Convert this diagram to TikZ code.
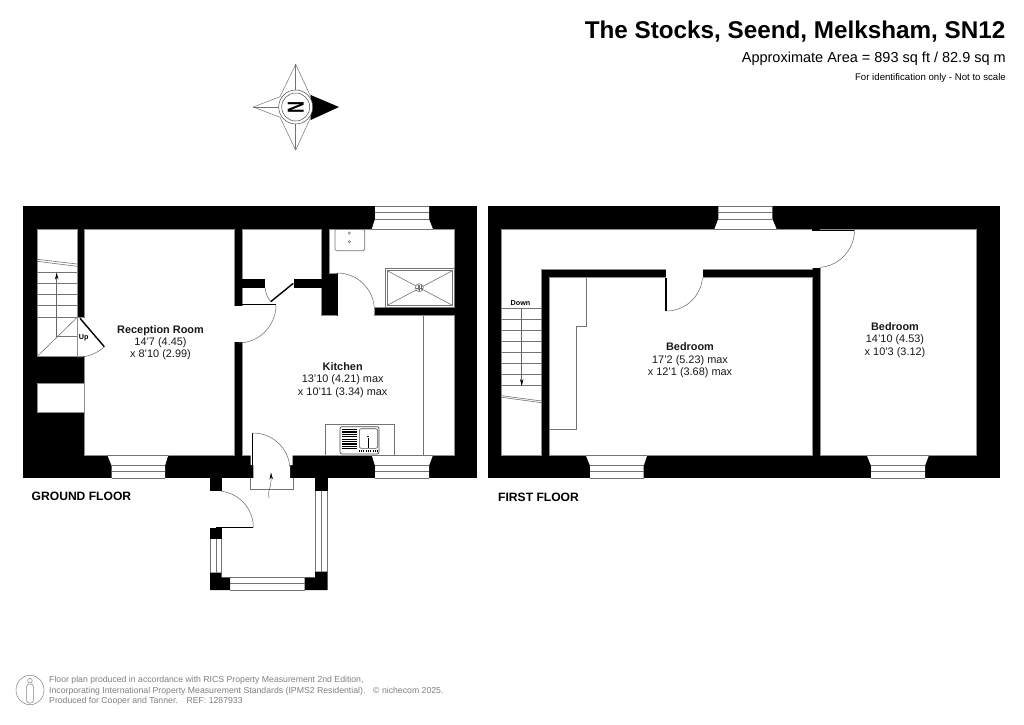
\documentclass[tikz,border=0pt]{standalone}
\usepackage{fontspec}
\setmainfont{Liberation Sans}
\usetikzlibrary{arrows.meta}
\tikzset{
        wall/.style={fill=black},
        room/.style={fill=white, draw=black!45, line width=0.6pt},
        gap/.style={fill=white},
        thinline/.style={draw=black!55, line width=0.6pt},
        swing/.style={draw=black!60, line width=0.5pt},
        leaf/.style={draw=black, line width=1.4pt},
        roomlabel/.style={align=center, inner sep=0pt, text=black!90, font=\fontsize{10.9}{12.3}\selectfont},
        floorlabel/.style={anchor=west, inner sep=0pt, font=\fontsize{12.1}{14}\selectfont\bfseries},
        footer/.style={anchor=base west, inner sep=0pt, text=black!50, font=\fontsize{8.7}{10}\selectfont},
        stairarrow/.style={draw=black!60, line width=0.5pt, -{Stealth[length=7pt,width=3.4pt,black]}}
}
\begin{document}
\begin{tikzpicture}[x=1pt, y=-1pt]
        \fill[white] (0,0) rectangle (1024,724);

        % outer walls
        \fill[wall] (23.3,206) rectangle (477,478);
        \fill[wall] (488.3,206) rectangle (1000,478);
        \fill[wall] (209.5,478) rectangle (221.7,491);
        \fill[wall] (315,478) rectangle (327.7,491);

        % ground floor rooms
        \path[room] (37,229.3) rectangle (77,356.7);
        \path[room] (37,383) rectangle (84.3,412);
        \path[room] (84.3,229.3) -- (234.3,229.3) -- (234.3,455) -- (84.3,455) -- (84.3,356.7)
                -- (77,356.7) -- (77,317.5) -- (84.3,317.5) -- cycle;
        \path[room] (242.3,229.3) -- (321.7,229.3) -- (321.7,315.7) -- (454,315.7) -- (454,455)
                -- (242.3,455) -- cycle;
        \path[room] (329.3,229.3) -- (454,229.3) -- (454,307.5) -- (374.3,307.5) -- (374.3,315.7)
                -- (337.3,315.7) -- (337.3,273) -- (329.3,273) -- cycle;
        \fill[wall] (242.3,279) rectangle (264.7,287.5);
        \fill[wall] (294,279) rectangle (321.7,287.5);
        \fill[gap] (233.5,305.5) rectangle (243,341.5);
        \fill[gap] (337.8,306) rectangle (373.8,317);
        \fill[gap] (250.7,454) -- (292.7,454) -- (292.7,465) -- (290,465) -- (290,478) -- (253.3,478)
                -- (253.3,465) -- (250.7,465) -- cycle;

        % first floor rooms
        \path[room] (501.7,229.3) -- (812.3,229.3) -- (812.3,269.3) -- (541.7,269.3) -- (541.7,455)
                -- (501.7,455) -- cycle;
        \path[room] (549,277.7) rectangle (812.3,455);
        \path[room] (820.7,229.3) rectangle (976.7,455);
        \fill[gap] (666,268.5) rectangle (702.7,278.5);
        \fill[gap] (811,230) rectangle (821.5,267.7);
        \fill[wall] (812,229) rectangle (820,231);

        % windows
        \foreach \xa/\xb/\xc/\xd/\ya/\yb/\yc/\yd in {
                107.3/111.7/165/168.3/455/465.7/471.7/478,
                371.7/375/429/433/455/465.7/471.7/478,
                585.7/590/643.7/647.3/455/465.7/471.7/478,
                866.7/871/925/929/455/465.7/471.7/478,
                371.7/375/429/433/229.3/219/212.3/206,
                714.3/718.3/772.3/776.7/229.3/219/212.3/206} {
                \path[fill=white] (\xa,\ya) -- (\xb,\yb) -- (\xb,\yd) -- (\xc,\yd) -- (\xc,\yb) -- (\xd,\ya) -- cycle;
                \draw[thinline] (\xa,\ya) -- (\xd,\ya);
                \foreach \y in {\yb,\yc,\yd}
                        \draw[thinline] (\xb,\y) -- (\xc,\y);
        }

        % porch
        \fill[wall] (210,528) rectangle (221.7,539);
        \fill[wall] (210,572.7) -- (221.7,572.7) -- (221.7,577.3) -- (230,577.3) -- (230,590) -- (210,590) -- cycle;
        \fill[wall] (327.7,571.7) -- (315,571.7) -- (315,577.3) -- (304.7,577.3) -- (304.7,590) -- (327.7,590) -- cycle;
        \foreach \x in {210,216,221.7}
                \draw[thinline] (\x,539) -- (\x,572.7);
        \foreach \x in {315,321,327.7}
                \draw[thinline] (\x,491) -- (\x,571.7);
        \foreach \y in {577.3,583.3,590}
                \draw[thinline] (230,\y) -- (304.7,\y);
        \draw[thinline] (250,478) -- (250,489) -- (293,489) -- (293,478);

        % doors
        \draw[leaf, line width=1pt] (238,304.8) -- (276,304.8);
        \draw[swing] (276,305) arc[start angle=0, end angle=90, radius=38];
        \draw[leaf] (80,318.3) -- (104.3,346.7);
        \draw[swing] (104.3,346.7) arc[start angle=47, end angle=91, radius=39];
        \draw[leaf] (270.7,301.7) -- (293.3,283.3);
        \draw[swing] (265,287.3) to[bend right=15] (270.7,301.7);
        \draw[leaf, line width=1pt] (337.3,273) -- (337.3,316);
        \draw[swing] (337.3,273) arc[start angle=-90, end angle=-5, radius=37];
        \draw[leaf] (252.7,433.3) -- (252.7,465);
        \draw[swing] (253,433) arc[start angle=-90, end angle=-5, radius=37];
        \draw[leaf, line width=1pt] (216,527.5) -- (253.3,527.5);
        \draw[swing] (253.3,527.3) arc[start angle=0, end angle=-83, radius=36.3];
        \draw[leaf] (666,277.7) -- (666,311);
        \draw[swing] (666.3,311) arc[start angle=90, end angle=5, radius=36.3];
        \draw[leaf, line width=1pt] (812,230.6) -- (854.3,230.6);
        \draw[swing] (854.5,230) arc[start angle=0, end angle=85, radius=37.5];

        % stairs
        \foreach \y in {272.7,283.3,294.7,305.3,317.3}
                \draw[thinline] (37,\y) -- (77,\y);
        \draw[thinline] (37,259.3) -- (77,264);
        \draw[thinline] (37,261.3) -- (77,266.3);
        \draw[thinline] (37,356.7) -- (77,317.5);
        \draw[thinline] (56.7,336.7) -- (77,336.7);
        \draw[stairarrow] (56.7,336.7) -- (56.7,272.5);
        \foreach \y in {308.3,319.3,330.7,341.7,352.7,363.3,374.7,385.7}
                \draw[thinline] (501.7,\y) -- (541.7,\y);
        \draw[thinline] (501.7,395.7) -- (541.7,401);
        \draw[thinline] (501.7,397.3) -- (541.7,402.7);
        \draw[stairarrow] (521.7,308.3) -- (521.7,386);
        \draw[stairarrow] (269,498) .. controls (267,491) and (271.5,488) .. (271,472.5);

        % fittings
        \draw[thinline] (423.3,315.7) -- (423.3,455);
        \draw[thinline] (586.7,277.7) -- (586.7,326.7) -- (576.7,326.7) -- (576.7,429.3) -- (549,429.3);
        \draw[thinline, rounded corners=1.5pt] (335,229.3) rectangle (364.7,250.7);
        \draw[thinline, line width=0.5pt] (349.3,233) circle (1.2) (349.3,241.7) circle (1.2);
        \draw[thinline] (385.3,268.3) rectangle (454,307.5);
        \draw[thinline] (387.3,270.7) rectangle (452.3,305.3);
        \draw[thinline] (387.3,270.7) -- (452.3,305.3) (387.3,305.3) -- (452.3,270.7);
        \draw[thinline, fill=white] (419.3,287.7) circle (4);
        \draw[thinline, line width=0.4pt] (417.8,285) -- (417.8,290.4) (419.3,284.5) -- (419.3,291) (420.8,285) -- (420.8,290.4) (416,287.7) -- (422.6,287.7);
        \draw[thinline] (325.7,455) -- (325.7,424.7) -- (394.3,424.7) -- (394.3,455);
        \draw[draw=black!70, line width=0.7pt, rounded corners=2pt] (340,426.7) rectangle (379,454);
        \draw[draw=black!70, line width=0.6pt, rounded corners=2pt] (359.3,428.7) rectangle (377.7,448.3);
        \foreach \y in {429.5,431.9,434.3,436.7,439.1,441.5,443.9,446.3,448.4}
                \draw[black, line width=1.2pt] (341.7,\y) -- (356.7,\y);
        \draw[black, line width=1pt] (368,438) -- (368,448);
        \fill (368,436.5) circle (0.8);
        \foreach \x in {361,368,375}
                \draw[black, line width=1.4pt, dash pattern=on 1pt off 1pt] (\x-2,451) -- (\x+2.5,451);

        % compass
        \fill[black] (339,107) -- (310.7,95) -- (310.7,120) -- cycle;
        \draw[swing, draw=black!55] (295.7,64.3) -- (280,96.7) (295.7,64.3) -- (310.7,96.7);
        \draw[swing, draw=black!55] (295.7,150) -- (280,117.3) (295.7,150) -- (310.7,117.3);
        \draw[swing, draw=black!55] (253.3,107) -- (280,96.7) (253.3,107) -- (280,117.3);
        \draw[swing, draw=black!55] (295.7,64.3) -- (295.7,90) (295.7,150) -- (295.7,124) (253.3,107) -- (279,107);
        \draw[swing, draw=black!70, fill=white] (295.7,107) circle (17);
        \draw[swing, draw=black!70] (295.7,107) circle (14);
        \node[inner sep=0pt, rotate=-90, yscale=1.4, font=\fontsize{16.5}{16.5}\selectfont\bfseries] (north) at (295.7,107) {N};

        % person
        \draw[swing, draw=black!50] (30,690) ellipse (14 and 14.7);
        \draw[swing, draw=black!50] (30,680.7) circle (2.3);
        \draw[swing, draw=black!50, rounded corners=2.5pt] (26.7,684) rectangle (33.3,703);

        % texts
        \node[anchor=base east, inner sep=0pt, font=\fontsize{24.25}{28}\selectfont\bfseries] (title) at (1005.5,38) {The Stocks, Seend, Melksham, SN12};
        \node[anchor=base east, inner sep=0pt, font=\fontsize{14.5}{17}\selectfont] (area) at (1006,62.5) {Approximate Area = 893 sq ft / 82.9 sq m};
        \node[anchor=base east, inner sep=0pt, font=\fontsize{9.65}{11}\selectfont] (note) at (1006,80) {For identification only - Not to scale};

        \node[roomlabel] (reception) at (160.5,342.5) {\textbf{Reception Room}\\14'7 (4.45)\\x 8'10 (2.99)};
        \node[roomlabel] (kitchen) at (342.7,380) {\textbf{Kitchen}\\13'10 (4.21) max\\x 10'11 (3.34) max};
        \node[roomlabel] (bedroomleft) at (690,360.3) {\textbf{Bedroom}\\17'2 (5.23) max\\x 12'1 (3.68) max};
        \node[roomlabel] (bedroomright) at (895,340) {\textbf{Bedroom}\\14'10 (4.53)\\x 10'3 (3.12)};
        \node[inner sep=0pt, font=\fontsize{7.2}{8}\selectfont\bfseries] (up) at (83.7,337.7) {Up};
        \node[inner sep=0pt, font=\fontsize{7.2}{8}\selectfont\bfseries] (down) at (520.5,302.7) {Down};
        \node[floorlabel] (ground) at (31.5,496) {GROUND FLOOR};
        \node[floorlabel] (first) at (498,497) {FIRST FLOOR};

        \node[footer] (foota) at (49,682) {Floor plan produced in accordance with RICS Property Measurement 2nd Edition,};
        \node[footer] (footb) at (49,693) {Incorporating International Property Measurement Standards (IPMS2 Residential).};
        \node[footer] (footc) at (49,703.5) {Produced for Cooper and Tanner.\quad REF:\ 1287933};
        \node[footer] (footd) at (373,693) {© nichecom 2025.};
\end{tikzpicture}
\end{document}
